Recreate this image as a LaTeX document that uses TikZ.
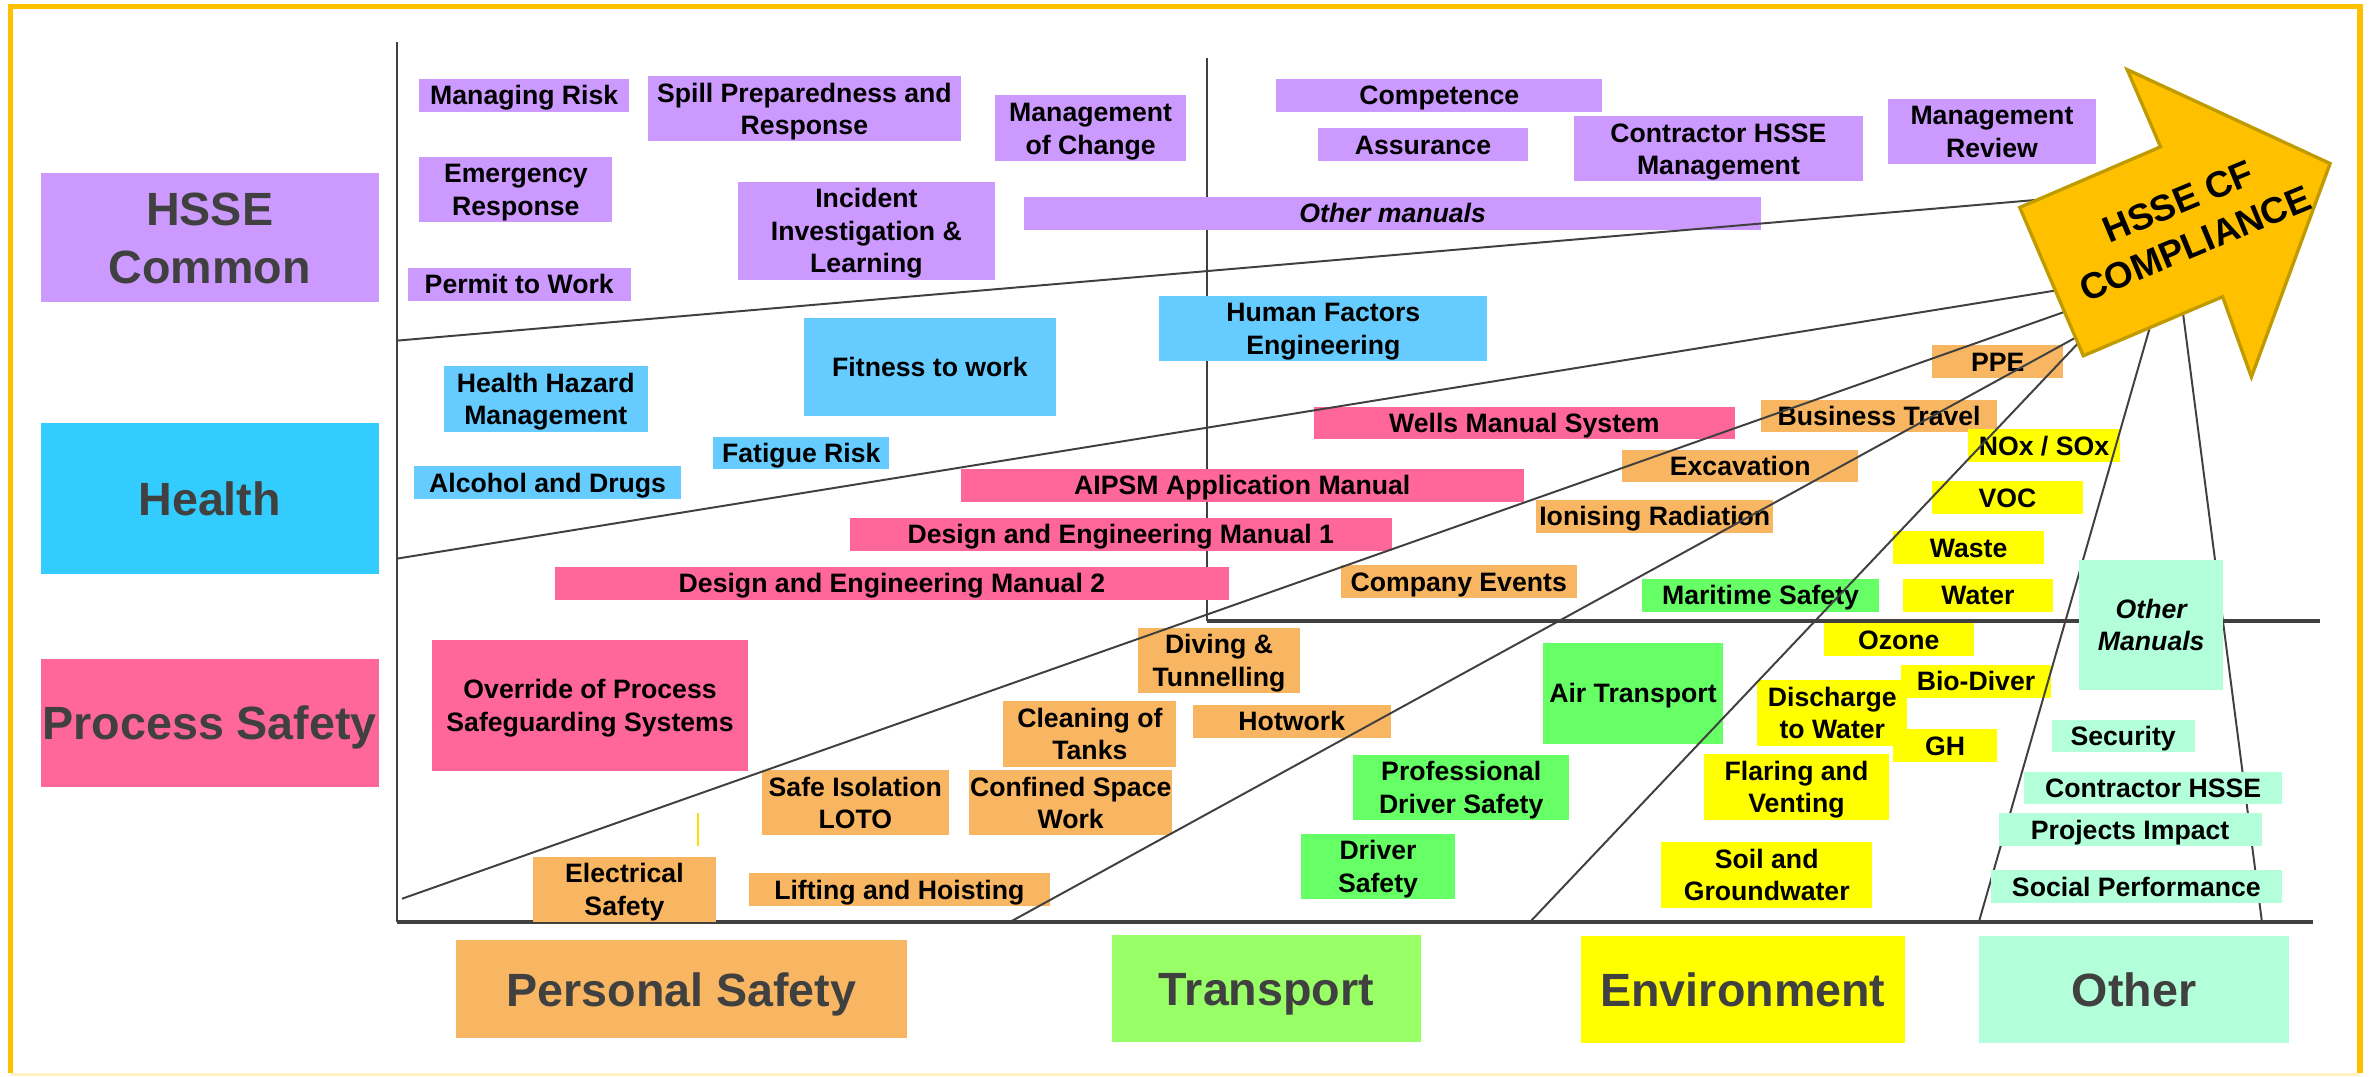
\documentclass[tikz,border=0pt]{standalone}
\usepackage{fontspec}
\setmainfont{Liberation Sans}
\definecolor{hssepurple}{HTML}{CC99FF}
\definecolor{healthlabel}{HTML}{33CCFF}
\definecolor{healthitem}{HTML}{66CCFF}
\definecolor{pspink}{HTML}{FF6699}
\definecolor{psorange}{HTML}{F9B662}
\definecolor{transgreen}{HTML}{99FF66}
\definecolor{tgreen}{HTML}{66FF66}
\definecolor{envyellow}{HTML}{FFFF00}
\definecolor{othermint}{HTML}{B3FFD9}
\definecolor{framegold}{HTML}{FFC000}
\definecolor{framepale}{HTML}{FFF2C6}
\definecolor{arrowedge}{HTML}{BF9B00}
\definecolor{linegray}{HTML}{404040}
\definecolor{labelgray}{HTML}{404040}
% fonts; \sth and \std are strut height and depth that centre the capitals
\newcommand\itemfont{\bfseries\fontsize{17.6}{21.4}\selectfont\def\sth{17.1pt}\def\std{4.5pt}}
\newcommand\catfont{\bfseries\fontsize{30.8}{38}\selectfont\def\sth{29pt}\def\std{7pt}}
% box placed by its corners: [style]{name}{x1}{y1}{x2}{y2}{fill}{text}
\newcommand\putbox[8][item]{%
  \node[#1, fill=#7, minimum width={(#5-#3)*1pt}, minimum height={(#6-#4)*1pt}]
    (#2) at ({(#3+#5)/2},{(#4+#6)/2}) {\rule{0pt}{\sth}#8\rule[-\std]{0pt}{\std}};}
\begin{document}
\begin{tikzpicture}[x=1pt,y=-1pt,
  item/.style={inner sep=0pt, align=center, font=\itemfont, text=black},
  catlabel/.style={inner sep=0pt, align=center, font=\catfont, text=labelgray},
  axis/.style={draw=linegray, line width=1.5pt},
  thickaxis/.style={draw=linegray, line width=2.4pt},
  ray/.style={draw=linegray, line width=1.3pt},
  bigarrow/.style={fill=framegold, draw=arrowedge, line width=2.2pt, line join=miter}]
\useasboundingbox (0,0) rectangle (1568,711);

% outer frame
\draw[framegold, line width=3.5pt] (7,709) -- (7,4.5) -- (1558.8,4.5) -- (1558.8,709);
\draw[framepale, line width=2pt] (7,710) -- (1558.8,710);

% axes
\coordinate (axtop) at (262,28);
\coordinate (axorigin) at (262,609);
\coordinate (axend) at (1528,609);
\coordinate (midtop) at (797,38);
\coordinate (midlow) at (797,410);
\coordinate (midend) at (1532,410);
\draw[axis] (axtop) -- (axorigin);
\draw[thickaxis] (axorigin) -- (axend);
\draw[axis] (midtop) -- (midlow);
\draw[thickaxis] (midlow) -- (midend);
\coordinate (tickA) at (461,537);
\coordinate (tickB) at (461,558.5);
\draw[yellow!80!orange, line width=0.7pt] (tickA) -- (tickB);

% category labels
\putbox[catlabel]{lblhsse}{26.8}{114.5}{250.2}{199.7}{hssepurple}{HSSE\\Common}
\putbox[catlabel]{lblhealth}{26.8}{279.2}{250.2}{379.3}{healthlabel}{Health}
\putbox[catlabel]{lblps}{26.8}{435.5}{250.2}{519.6}{pspink}{Process Safety}
\putbox[catlabel]{lblpers}{301.2}{621}{599}{685.9}{psorange}{Personal Safety}
\putbox[catlabel]{lbltrans}{734.5}{617.5}{938.5}{688.4}{transgreen}{Transport}
\putbox[catlabel]{lblenv}{1044.2}{618.2}{1258.1}{689.2}{envyellow}{Environment}
\putbox[catlabel]{lblother}{1307.1}{618.2}{1511.8}{689.2}{othermint}{Other}

% HSSE common manuals
\putbox{mrisk}{277}{52}{415.5}{73.7}{hssepurple}{Managing Risk}
\putbox{spill}{428.2}{50.5}{634.4}{93.4}{hssepurple}{Spill Preparedness and\\Response}
\putbox{moc}{657.2}{63}{783.5}{106.6}{hssepurple}{Management\\of Change}
\putbox{emerg}{277}{103.8}{404.4}{146.4}{hssepurple}{Emergency\\Response}
\putbox{incident}{487.3}{120}{657.2}{184.7}{hssepurple}{Incident\\Investigation \&\\Learning}
\putbox{othman}{676.4}{130.4}{1163.3}{151.3}{hssepurple}{\itshape Other manuals}
\putbox{ptw}{269.4}{177.3}{416.5}{198.1}{hssepurple}{Permit to Work}
\putbox{comp}{843.1}{51.9}{1058.1}{73.7}{hssepurple}{Competence}
\putbox{assur}{870.5}{84.8}{1009.2}{106.6}{hssepurple}{Assurance}
\putbox{chsse}{1039.6}{76.9}{1230.4}{119.8}{hssepurple}{Contractor HSSE\\Management}
\putbox{mreview}{1246.8}{65.3}{1384.5}{108.2}{hssepurple}{Management\\Review}

% health
\putbox{fitness}{530.8}{210.2}{697.6}{274.6}{healthitem}{Fitness to work}
\putbox{hhm}{293.2}{242.1}{427.7}{285}{healthitem}{Health Hazard\\Management}
\putbox{fatigue}{471.1}{288.5}{587.4}{310}{healthitem}{Fatigue Risk}
\putbox{alcohol}{273.5}{308.2}{449.9}{329.5}{healthitem}{Alcohol and Drugs}
\putbox{hfe}{765.8}{195.3}{982.3}{238.7}{healthitem}{Human Factors\\Engineering}

% process safety
\putbox{aipsm}{634.4}{310}{1006.6}{330.9}{pspink}{AIPSM Application Manual}
\putbox{dem1}{561.1}{342.4}{919.4}{363.4}{pspink}{Design and Engineering Manual 1}
\putbox{dem2}{366.5}{374.4}{811.7}{396.2}{pspink}{Design and Engineering Manual 2}
\putbox{wells}{867.9}{268.8}{1145.8}{290.1}{pspink}{Wells Manual System}
\putbox{override}{285.6}{422.7}{493.9}{509.3}{pspink}{Override of Process\\Safeguarding Systems}

% personal safety
\putbox{ppe}{1276.2}{228.2}{1362.8}{249.5}{psorange}{PPE}
\putbox{btravel}{1163.3}{264.1}{1319}{285.5}{psorange}{Business Travel}
\putbox{excav}{1071.5}{297}{1227.3}{318.6}{psorange}{Excavation}
\putbox{ionis}{1014.8}{330.2}{1171.1}{351.7}{psorange}{Ionising Radiation}
\putbox{cevents}{885.4}{373.5}{1041.6}{394.6}{psorange}{Company Events}
\putbox{diving}{751.7}{414.5}{858.6}{457.8}{psorange}{Diving \&\\Tunnelling}
\putbox{cleaning}{662.7}{462.9}{777}{506.3}{psorange}{Cleaning of\\Tanks}
\putbox{hotwork}{788}{466}{918.4}{486.8}{psorange}{Hotwork}
\putbox{loto}{503}{508.8}{626.8}{551.5}{psorange}{Safe Isolation\\LOTO}
\putbox{confined}{640}{508.8}{774.4}{551.5}{psorange}{Confined Space\\Work}
\putbox{elec}{352.3}{566}{472.6}{608.8}{psorange}{Electrical\\Safety}
\putbox{lifting}{494.4}{577}{693.6}{598.3}{psorange}{Lifting and Hoisting}

% transport
\putbox{maritime}{1084.4}{382.1}{1241.2}{403.9}{tgreen}{Maritime Safety}
\putbox{air}{1019}{424.5}{1138.1}{491.5}{tgreen}{Air Transport}
\putbox{pdriver}{893.7}{498.8}{1036.5}{541.4}{tgreen}{Professional\\Driver Safety}
\putbox{driver}{859.1}{550.6}{961.2}{594.1}{tgreen}{Driver\\Safety}

% environment
\putbox{nox}{1300}{283.8}{1400}{305.1}{envyellow}{NOx / SOx}
\putbox{voc}{1276.2}{318.1}{1375.7}{339.4}{envyellow}{VOC}
\putbox{waste}{1250.5}{351}{1350}{372.5}{envyellow}{Waste}
\putbox{water}{1256.6}{382.1}{1356.2}{403.9}{envyellow}{Water}
\putbox{ozone}{1204.6}{411.9}{1303.6}{433.2}{envyellow}{Ozone}
\putbox{discharge}{1160.7}{449.6}{1259.7}{492.2}{envyellow}{Discharge\\to Water}
\putbox{biodiv}{1255.6}{439.5}{1354.6}{460.6}{envyellow}{Bio-Diver}
\putbox{gh}{1250.5}{482.1}{1319}{502.8}{envyellow}{GH}
\putbox{flaring}{1125.2}{498.1}{1247.9}{541.4}{envyellow}{Flaring and\\Venting}
\putbox{soil}{1097.3}{556.6}{1236.5}{599.2}{envyellow}{Soil and\\Groundwater}

% boundary rays converging on the compliance arrow
\coordinate (rA0) at (262,225);     \coordinate (rA1) at (1350,131.6);
\coordinate (rB0) at (262,369);     \coordinate (rB1) at (1365,190.7);
\coordinate (rC0) at (265.5,593.6); \coordinate (rC1) at (1372,203);
\coordinate (rD0) at (667,609);     \coordinate (rD1) at (1380,218);
\coordinate (rE0) at (1010.5,609);  \coordinate (rE1) at (1382,216.7);
\coordinate (rF0) at (1307,609);    \coordinate (rF1) at (1420,216);
\coordinate (rG0) at (1494,609);    \coordinate (rG1) at (1442,208);
\foreach \r in {A,B,C,D,E,F,G} \draw[ray] (r\r0) -- (r\r1);

% other
\putbox{othmanuals}{1373.2}{369.7}{1468.5}{455.9}{othermint}{\itshape Other\\\itshape Manuals}
\putbox{security}{1355.1}{475.4}{1449.5}{496.9}{othermint}{Security}
\putbox{contr}{1337}{509.8}{1507.2}{531.3}{othermint}{Contractor HSSE}
\putbox{projimp}{1320}{537.2}{1493.8}{558.5}{othermint}{Projects Impact}
\putbox{socperf}{1314.9}{574.7}{1507.2}{596.4}{othermint}{Social Performance}

% compliance arrow
\draw[bigarrow] (1539,108) -- (1405,46) -- (1427,97) -- (1334,137)
  -- (1376,235) -- (1468,196) -- (1487,249) -- cycle;
\node[rotate=22.5, align=center, inner sep=0pt,
  font=\bfseries\fontsize{24.2}{29.8}\selectfont] (compliance) at (1444.3,147)
  {HSSE CF\\COMPLIANCE};
\end{tikzpicture}
\end{document}
